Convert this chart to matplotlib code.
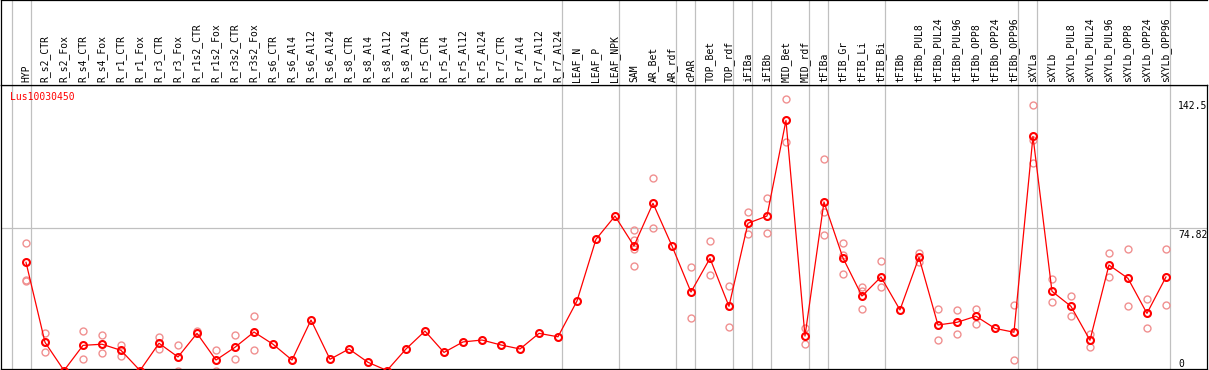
import matplotlib
matplotlib.use("Agg")
from matplotlib import pyplot as plt
from matplotlib import transforms

gene = "Lus10030450"

labels = [
    "HYP",
    "R_s2_CTR", "R_s2_Fox", "R_s4_CTR", "R_s4_Fox", "R_r1_CTR", "R_r1_Fox",
    "R_r3_CTR", "R_r3_Fox", "R_r1s2_CTR", "R_r1s2_Fox", "R_r3s2_CTR", "R_r3s2_Fox",
    "R_s6_CTR", "R_s6_Al4", "R_s6_Al12", "R_s6_Al24",
    "R_s8_CTR", "R_s8_Al4", "R_s8_Al12", "R_s8_Al24",
    "R_r5_CTR", "R_r5_Al4", "R_r5_Al12", "R_r5_Al24",
    "R_r7_CTR", "R_r7_Al4", "R_r7_Al12", "R_r7_Al24",
    "LEAF_N", "LEAF_P", "LEAF_NPK",
    "SAM", "AR_Bet", "AR_rdf",
    "cPAR",
    "TOP_Bet", "TOP_rdf",
    "iFIBa",
    "iFIBb",
    "MID_Bet", "MID_rdf",
    "tFIBa",
    "tFIB_Gr", "tFIB_Li", "tFIB_Bi",
    "tFIBb", "tFIBb_PUL8", "tFIBb_PUL24", "tFIBb_PUL96",
    "tFIBb_OPP8", "tFIBb_OPP24", "tFIBb_OPP96",
    "sXYLa",
    "sXYLb", "sXYLb_PUL8", "sXYLb_PUL24", "sXYLb_PUL96",
    "sXYLb_OPP8", "sXYLb_OPP24", "sXYLb_OPP96",
]

# number of samples in each tissue group (separated by grey lines)
group_sizes = [1, 28, 3, 3, 1, 2, 1, 1, 2, 1, 3, 7, 1, 7]

means = [
    56.8,
    14.8, 0.0, 13.2, 13.8, 10.6, 0.0,
    14.3, 7.1, 19.5, 5.5, 12.2, 20.2,
    13.8, 5.5, 26.5, 5.9,
    11.3, 4.3, 0.0, 11.3,
    20.7, 9.5, 15.0, 16.0,
    13.4, 11.3, 19.5, 17.7,
    36.5, 68.9, 81.1,
    65.4, 87.8, 65.4,
    41.2,
    58.9, 33.7,
    77.3,
    81.1,
    131.3, 18.1,
    88.5,
    59.1, 39.1, 49.1,
    31.8, 59.4, 23.9, 25.3,
    28.5, 22.1, 20.1,
    122.9,
    41.6, 33.7, 15.9, 55.4,
    48.4, 30.0, 49.1,
]

replicates = [
    [66.8, 47.5, 47.0],
    [19.5, 9.5], [], [20.7, 5.9], [18.5, 9.0], [13.4, 7.8], [],
    [17.4, 11.3], [13.2, 0.0], [20.5], [10.6, 0.0], [18.5, 5.9], [28.8, 10.6],
    [], [], [], [],
    [], [], [], [],
    [], [], [], [],
    [], [], [], [],
    [], [], [],
    [73.8, 68.5, 63.8, 54.9], [100.9, 74.6], [],
    [54.2, 27.6],
    [67.8, 50.0], [44.2, 22.8],
    [83.0, 71.5],
    [90.4, 72.0],
    [142.5, 119.8], [22.1, 13.8],
    [110.9, 83.0, 71.0],
    [66.8, 60.6, 50.7], [43.7, 41.9, 32.3], [57.3, 43.7],
    [], [61.5, 57.1], [32.1, 15.9], [31.8, 19.0],
    [32.3, 24.2], [], [34.2, 5.5],
    [139.4, 121.0, 108.8],
    [47.9, 35.8], [39.1, 28.5], [19.2, 12.2], [61.7, 49.1],
    [63.6, 33.7], [37.4, 22.1], [63.6, 34.2],
]

y_labels = [142.5, 74.82, 0]

W, H = 1209, 370
fig = plt.figure(figsize=(W / 100, H / 100), dpi=100)
ax = fig.add_axes([1 / W, 1 / H, 1206 / W, 284 / H])
hd = fig.add_axes([1 / W, 285 / H, 1206 / W, 85 / H], sharex=ax)

grey = "#c0c0c0"
mono = "DejaVu Sans Mono"
x = list(range(len(labels)))

ax.set_xlim(-1.316, 62.16)
ax.set_ylim(0.79, 149.9)
hd.set_ylim(0, 1)

for a in (ax, hd):
    a.tick_params(left=False, bottom=False, labelleft=False, labelbottom=False)
    for s in a.spines.values():
        s.set_linewidth(0.9)
        s.set_color("black")
hd.spines["right"].set_visible(False)

# group separators
bounds = [-1]
pos = -1
for n in group_sizes:
    pos += n
    bounds.append(pos)
for b in bounds:
    ax.axvline(b + 0.237, color=grey, lw=0.9, zorder=1)
    hd.axvline(b + 0.237, color=grey, lw=0.9, zorder=1)
ax.axhline(y_labels[1], color=grey, lw=0.9, zorder=1)

# replicate points
rx, ry = [], []
for i, vals in enumerate(replicates):
    for v in vals:
        rx.append(i)
        ry.append(v)
ax.plot(rx, ry, "o", ls="none", ms=5, mfc="none", mec="#f09090", mew=1.0, zorder=2)

# mean line
ax.plot(x, means, "-o", color="red", lw=0.9, ms=5, mfc="none", mec="red", mew=1.5, zorder=3)

# sample names
tr = transforms.blended_transform_factory(hd.transData, hd.transAxes)
for i, lab in enumerate(labels):
    hd.text(i, 0.03, lab, rotation=90, ha="center", va="bottom", transform=tr,
            family=mono, fontsize=7.0, color="black")

ax.annotate(gene, xy=(0, 1), xycoords="axes fraction", xytext=(9, -7),
            textcoords="offset pixels", ha="left", va="top", family=mono,
            fontsize=7.0, color="red")

for v in y_labels:
    va = "bottom" if v == 0 else "top"
    dy = 2 if v == 0 else -2
    ax.annotate(f"{v:g}", xy=(1, v), xycoords=("axes fraction", "data"),
                xytext=(-29, dy), textcoords="offset pixels", ha="left", va=va,
                family=mono, fontsize=7.0, color="black", annotation_clip=False)

fig.savefig("out.png", dpi=100)
